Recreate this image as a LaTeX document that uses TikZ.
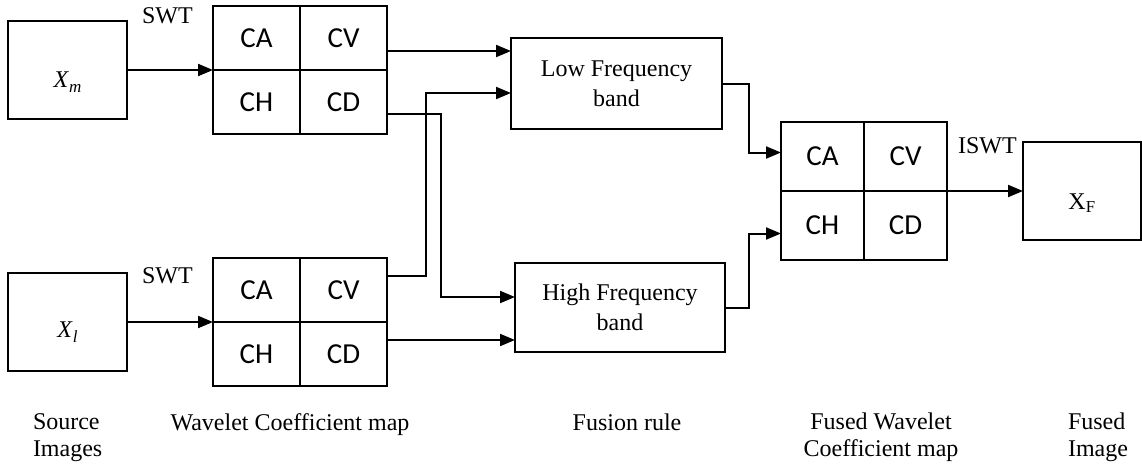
\documentclass[tikz,border=0pt]{standalone}
\usepackage{fontspec}
\setmainfont{Liberation Serif}
\newfontfamily\swtCellFont{Carlito}
\usetikzlibrary{arrows.meta,positioning}
\newcommand{\swtSub}[1]{\raisebox{-5pt}{\fontsize{17}{17}\selectfont#1}}
\tikzset{
  swtBox/.style={
    draw,
    line width=1.4pt,
    inner sep=0pt,
    align=center
  },
  swtCell/.style={
    draw,
    line width=1.4pt,
    inner sep=0pt,
    font=\swtCellFont\fontsize{29}{30}\selectfont
  },
  swtArrow/.style={
    -{Triangle[length=15pt,width=12pt]},
    line width=2pt
  },
  swtNote/.style={
    inner sep=0pt,
    font=\fontsize{24}{26.5}\selectfont
  }
}

\begin{document}
\begin{tikzpicture}[
  x=1pt, y=-1pt,
  font=\fontsize{24}{30}\selectfont,
  every node/.style={outer sep=0pt}
]
\useasboundingbox (0,0) rectangle (1142,467);

% source images
\node[swtBox, minimum width=119pt, minimum height=98pt] (xm) at (67.5,70)
  {\raisebox{-17pt}[0pt][0pt]{\textit{X}\swtSub{\textit{m}}}};
\node[swtBox, minimum width=119pt, minimum height=98pt] (xl) at (67.5,322)
  {\raisebox{-15pt}[0pt][0pt]{\textit{X}\swtSub{\textit{l}}}};

% wavelet coefficient maps
\node[swtCell, minimum width=87pt, minimum height=64pt] (m1ca) at (256.5,38) {CA};
\node[swtCell, minimum width=87pt, minimum height=64pt, right=0pt of m1ca] (m1cv) {CV};
\node[swtCell, minimum width=87pt, minimum height=64pt, below=0pt of m1ca] (m1ch) {CH};
\node[swtCell, minimum width=87pt, minimum height=64pt, right=0pt of m1ch] (m1cd) {CD};

\node[swtCell, minimum width=87pt, minimum height=64pt] (m2ca) at (256.5,290) {CA};
\node[swtCell, minimum width=87pt, minimum height=64pt, right=0pt of m2ca] (m2cv) {CV};
\node[swtCell, minimum width=87pt, minimum height=64pt, below=0pt of m2ca] (m2ch) {CH};
\node[swtCell, minimum width=87pt, minimum height=64pt, right=0pt of m2ch] (m2cd) {CD};

% fusion rule
\node[swtBox, minimum width=211pt, minimum height=91pt] (low) at (616.5,83.5)
  {Low Frequency\\band};
\node[swtBox, minimum width=210pt, minimum height=89pt] (high) at (620,307.5)
  {High Frequency\\band};

% fused map and image
\node[swtCell, minimum width=83pt, minimum height=69pt] (fca) at (822.5,156.5) {CA};
\node[swtCell, minimum width=83pt, minimum height=69pt, right=0pt of fca] (fcv) {CV};
\node[swtCell, minimum width=83pt, minimum height=69pt, below=0pt of fca] (fch) {CH};
\node[swtCell, minimum width=83pt, minimum height=69pt, right=0pt of fch] (fcd) {CD};
\node[swtBox, minimum width=118pt, minimum height=98pt] (xf) at (1082,191)
  {\raisebox{-18pt}[0pt][0pt]{X\textsubscript{F}}};

% transform labels
\node[swtNote, anchor=base west] (swtTop) at (142,23) {SWT};
\node[swtNote, anchor=base west] (swtBottom) at (142,283) {SWT};
\node[swtNote, anchor=base west] (iswt) at (958,153) {ISWT};

% captions
\node[swtNote, anchor=base west, align=left] (capSource) at (33,456) {Source\\Images};
\node[swtNote, anchor=base] (capMap) at (290,430) {Wavelet Coefficient map};
\node[swtNote, anchor=base] (capRule) at (627,430) {Fusion rule};
\node[swtNote, anchor=base, align=center] (capFused) at (881,456) {Fused Wavelet\\Coefficient map};
\node[swtNote, anchor=base west, align=left] (capImage) at (1068,456) {Fused\\Image};

% connectors
\coordinate (cvOut) at ([yshift=-13pt]m1cv.east);
\coordinate (cdOut) at ([yshift=14pt]m2cd.east);
\coordinate (bendA) at (426,93);
\coordinate (bendB) at (441,297);

\draw[swtArrow] (xm.east) -- (m1ca.south west);
\draw[swtArrow] (xl.east) -- (m2ca.south west);
\draw[swtArrow] (cvOut) -- (cvOut -| low.west);
\draw[swtArrow] ([yshift=14pt]m2cv.east) -| (bendA) -- (bendA -| low.west);
\draw[swtArrow] ([yshift=-12pt]m1cd.east) -| (bendB) -- (bendB -| high.west);
\draw[swtArrow] (cdOut) -- (cdOut -| high.west);
\draw[swtArrow] (low.east) -- ++(27pt,0) |- ([yshift=4pt]fca.west);
\draw[swtArrow] (high.east) -- ++(24pt,0) |- ([yshift=-8pt]fch.west);
\draw[swtArrow] ([xshift=16pt]fcv.south) -- (xf.west);
\end{tikzpicture}
\end{document}
